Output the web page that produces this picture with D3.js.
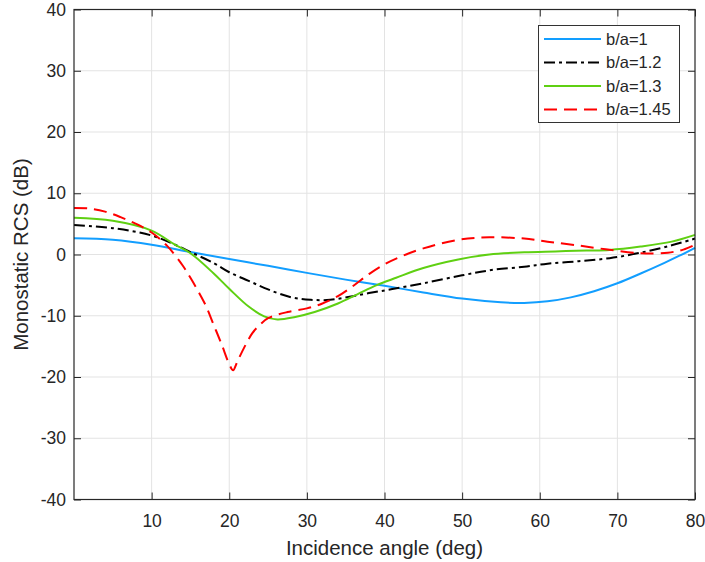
<!DOCTYPE html>
<html>
<head>
<meta charset="utf-8">
<script src="https://cdn.jsdelivr.net/npm/d3@7"></script>
<style>
body { margin:0; background:#fff; }
svg text { font-family: "Liberation Sans", Arial, Helvetica, sans-serif; fill:#262626; }
</style>
</head>
<body>
<svg id="chart"></svg>
<script>
// angles (deg) and monostatic RCS (dB)
var anglesA = [0,5,10,15,20,25,30,35,40,45,50,55,58,61,64,67,70,73,76,78,80]
var rcsA    = [2.65,2.4,1.6,0.4,-0.75,-1.85,-3.0,-4.1,-5.1,-6.2,-7.2,-7.8,-7.9,-7.65,-7.0,-6.0,-4.7,-3.1,-1.4,-0.2,1.1]

var anglesB = [0,5,10,13,15,18,20,22.5,25,28,30.5,33,35.5,38,41,45,50,54,58,61,65,69,73,77,80]
var rcsB    = [4.8,4.3,3.1,1.6,0.4,-1.4,-2.9,-4.3,-5.7,-7.0,-7.4,-7.4,-6.9,-6.3,-5.65,-4.7,-3.4,-2.5,-2.0,-1.5,-1.1,-0.6,0.3,1.5,2.6]

var anglesC = [0,5,10,13,15,18,20,22.5,24.5,26.2,28.5,31,34,36.5,39,41.5,45,49.5,53.5,58,62,66,69,73,77,80]
var rcsC    = [6.0,5.5,3.9,1.6,0.2,-3.1,-5.6,-8.5,-10.1,-10.6,-10.2,-9.4,-8.0,-6.5,-5.0,-3.8,-2.2,-0.8,0.0,0.35,0.5,0.65,0.75,1.3,2.1,3.2]

var anglesD = [0,2,4,6,8,10,12,14,15,16,17,18,19,20,20.5,21,22,23,24,25,27.5,30,32,34,36,38,40,42,45,49.5,53.5,58,61,64.5,68.5,73,76.5,78.5,80]
var rcsD    = [7.6,7.5,7.0,6.1,5.0,3.6,1.4,-1.8,-3.8,-6.0,-8.4,-11.5,-14.6,-17.9,-18.9,-17.6,-15.0,-12.8,-11.4,-10.4,-9.4,-8.8,-8.0,-6.8,-5.1,-3.2,-1.6,-0.4,1.0,2.4,2.8,2.6,2.1,1.55,0.85,0.2,0.3,0.8,1.6]

var seriesNames = ["b/a=1","b/a=1.2","b/a=1.3","b/a=1.45"]
var xTicks = [10,20,30,40,50,60,70,80]
var yTicks = [-40,-30,-20,-10,0,10,20,30,40]

var screen = {width:705, height:562}
var margins = {top:9.5, right:10, bottom:62.5, left:74}

var series = [
  {name:seriesNames[0], x:anglesA, y:rcsA, color:"#129eff", dash:null},
  {name:seriesNames[1], x:anglesB, y:rcsB, color:"#000000", dash:"11,4,3,4"},
  {name:seriesNames[2], x:anglesC, y:rcsC, color:"#5fd012", dash:null},
  {name:seriesNames[3], x:anglesD, y:rcsD, color:"#ff0000", dash:"13,7"}
]

var width = screen.width - margins.left - margins.right
var height = screen.height - margins.top - margins.bottom

var svg = d3.select("#chart")
    .attr("width",screen.width)
    .attr("height",screen.height)

var xScale = d3.scaleLinear().domain([0,80]).range([margins.left, margins.left+width])
var yScale = d3.scaleLinear().domain([-40,40]).range([margins.top+height, margins.top])

// grid
var grid = svg.append("g").attr("class","grid")
grid.selectAll(".gx").data(xTicks.slice(0,-1)).enter().append("line")
    .attr("x1",function(d){return xScale(d)}).attr("x2",function(d){return xScale(d)})
    .attr("y1",margins.top).attr("y2",margins.top+height)
    .attr("stroke","#e3e3e3").attr("stroke-width",1)
grid.selectAll(".gy").data(yTicks.slice(1,-1)).enter().append("line")
    .attr("y1",function(d){return yScale(d)}).attr("y2",function(d){return yScale(d)})
    .attr("x1",margins.left).attr("x2",margins.left+width)
    .attr("stroke","#e3e3e3").attr("stroke-width",1)

// curves
var lineGenerator = d3.line()
    .x(function(p){return xScale(p[0])})
    .y(function(p){return yScale(p[1])})
    .curve(d3.curveCatmullRom.alpha(0.5))

svg.append("g").attr("id","lines")
    .selectAll("path")
    .data(series)
    .enter()
    .append("path")
    .attr("fill","none")
    .attr("stroke",function(s){return s.color})
    .attr("stroke-width",2)
    .attr("stroke-dasharray",function(s){return s.dash})
    .attr("d",function(s){return lineGenerator(s.x.map(function(v,i){return [v,s.y[i]]}))})

// axes (ticks point inward like the original), plain hyphen for negatives
var fmt = function(d){return String(d)}
var xAxis = svg.append("g").attr("transform","translate(0,"+(margins.top+height)+")")
    .call(d3.axisBottom(xScale).tickValues(xTicks).tickSize(-7).tickPadding(15).tickFormat(fmt))
var xTop = svg.append("g").attr("transform","translate(0,"+margins.top+")")
    .call(d3.axisTop(xScale).tickValues(xTicks).tickSize(-7).tickFormat(""))
var yAxis = svg.append("g").attr("transform","translate("+margins.left+",0)")
    .call(d3.axisLeft(yScale).tickValues(yTicks).tickSize(-7).tickPadding(8).tickFormat(fmt))
var yRight = svg.append("g").attr("transform","translate("+(margins.left+width)+",0)")
    .call(d3.axisRight(yScale).tickValues(yTicks).tickSize(-7).tickFormat(""))

svg.selectAll(".domain").remove()
svg.selectAll(".tick line").attr("stroke","#262626")
svg.selectAll(".tick text").attr("font-size",17.5).attr("fill","#262626")

svg.append("rect")
    .attr("x",margins.left).attr("y",margins.top)
    .attr("width",width).attr("height",height)
    .attr("fill","none").attr("stroke","#262626").attr("stroke-width",1.2)

// axis labels
svg.append("text")
    .attr("x",xScale(40)).attr("y",555)
    .attr("text-anchor","middle").attr("font-size",20.5)
    .text("Incidence angle (deg)")
svg.append("text")
    .attr("transform","translate(28,"+yScale(0)+") rotate(-90)")
    .attr("text-anchor","middle").attr("font-size",20.5)
    .text("Monostatic RCS (dB)")

// legend
var legend = svg.append("g").attr("id","legend")
legend.append("rect")
    .attr("x",538.5).attr("y",25.5).attr("width",141).attr("height",97)
    .attr("fill","#fff").attr("stroke","#333").attr("stroke-width",1)
var items = legend.selectAll("g.item").data(series).enter().append("g")
    .attr("transform",function(s,i){return "translate(0,"+(39+i*23.5)+")"})
items.append("line")
    .attr("x1",544).attr("x2",601)
    .attr("stroke",function(s){return s.color})
    .attr("stroke-width",2)
    .attr("stroke-dasharray",function(s){return s.dash})
items.append("text")
    .attr("x",606).attr("dy","0.35em").attr("font-size",16.5)
    .text(function(s){return s.name})
</script>
</body>
</html>
